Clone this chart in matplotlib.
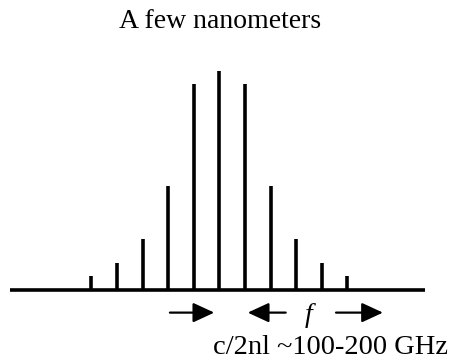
import matplotlib
matplotlib.use("Agg")
import matplotlib.pyplot as plt

# comb lines: mode index relative to centre, and relative intensity
modes = [-5, -4, -3, -2, -1, 0, 1, 2, 3, 4, 5]
intensity = [0.064, 0.123, 0.233, 0.475, 0.94, 1.0, 0.94, 0.475, 0.233, 0.123, 0.064]

title = "A few nanometers"
spacing_label = "c/2nl ~100-200 GHz"

plt.rcParams['font.family'] = ['Liberation Serif', 'DejaVu Serif']

fig = plt.figure(figsize=(4.51, 3.63), dpi=100)
ax = fig.add_axes([0, 0, 1, 1])
ax.set_xlim(-8.57, 9.05)
ax.set_ylim(-0.333, 1.324)
ax.axis("off")

ax.vlines(modes, 0, intensity, colors="black", linewidth=2.6)
ax.plot([-8.18, 8.03], [0, 0], color="black", linewidth=2.6, solid_capstyle="butt")

ax.text(0.03, 1.225, title, ha="center", va="center", fontsize=20)

arrow = dict(arrowstyle="-|>,head_length=1.3,head_width=0.6", color="black", lw=1.6)
ax.annotate("", xy=(-0.09, -0.103), xytext=(-2.04, -0.103), arrowprops=arrow)
ax.annotate("", xy=(1.0, -0.103), xytext=(2.7, -0.103), arrowprops=arrow)
ax.annotate("", xy=(6.5, -0.103), xytext=(4.45, -0.103), arrowprops=arrow)
ax.text(3.5, -0.115, "f", ha="center", va="center", fontsize=20, style="italic")

ax.text(-0.25, -0.262, spacing_label, ha="left", va="center", fontsize=20.5)

fig.savefig("out.png", dpi=100)
